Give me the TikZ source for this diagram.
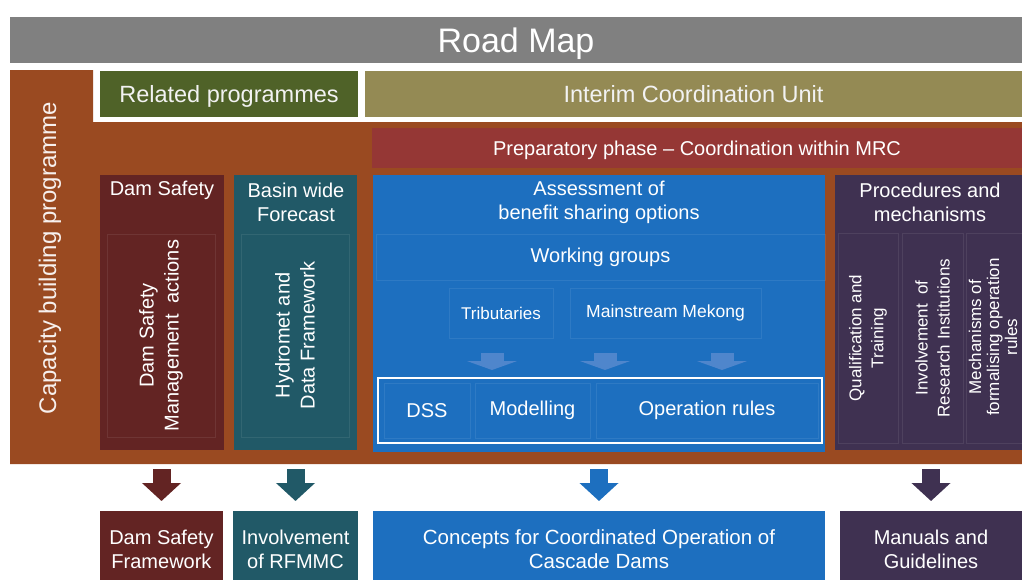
\documentclass[tikz,border=0pt]{standalone}
\usepackage{fontspec}
\setmainfont{Liberation Sans}
\usepackage{xcolor}
\usepackage{tikz}
\usetikzlibrary{arrows.meta,calc}

\definecolor{roadgrey}{HTML}{808080}
\definecolor{capbrown}{HTML}{9A4A21}
\definecolor{relgreen}{HTML}{4F6228}
\definecolor{icuolive}{HTML}{948A54}
\definecolor{prepred}{HTML}{953735}
\definecolor{damred}{HTML}{632423}
\definecolor{basinteal}{HTML}{215967}
\definecolor{assessblue}{HTML}{1D6FBF}
\definecolor{procpurple}{HTML}{3F3151}
\definecolor{wgarrow}{HTML}{4F86CC}

\tikzset{
  block/.style={anchor=north west, inner sep=0pt, outer sep=0pt, text=white, align=center},
  cell/.style={block, draw=white, draw opacity=0.08, line width=0.8pt},
  txt/.style={text=white, align=center, inner sep=0pt, font=\fontsize{20}{24}\selectfont},
  vtxt/.style={txt, rotate=90, font=\fontsize{20}{25}\selectfont},
  bartxt/.style={text=white!95!black, text depth=0pt, font=\fontsize{23.5}{28}\selectfont},
  bigarrow/.style={draw=#1, line width=18pt, -{Triangle[width=38pt,length=18pt]}},
  smallarrow/.style={draw=wgarrow, line width=23pt, -{Triangle[width=50pt,length=9pt]}},
}

\begin{document}
\begin{tikzpicture}[x=1pt,y=-1pt]
\useasboundingbox (0,0) rectangle (1022,579);

% background frame
\fill[capbrown] (10,70) -- (93,70) -- (93,122) -- (1022,122) -- (1022,464) -- (10,464) -- cycle;

% top bars
\node[block, fill=roadgrey, minimum width=1012pt, minimum height=46pt, text depth=0pt,
      font=\fontsize{34}{40}\selectfont] (road) at (10,17) {Road Map};
\node[block, bartxt, fill=relgreen, minimum width=258pt, minimum height=46pt] (related) at (100,71) {Related programmes};
\node[block, bartxt, fill=icuolive, minimum width=657pt, minimum height=46pt] (icu) at (365,71) {Interim Coordination Unit};
\node[block, fill=prepred, minimum width=650pt, minimum height=40pt, text depth=0pt,
      font=\fontsize{20}{24}\selectfont] (prep) at (372,128) {Preparatory phase -- Coordination within MRC};

\node[vtxt, text=white!92!capbrown, font=\fontsize{24}{28}\selectfont] (capacity) at (50,258) {Capacity building programme};

% dam safety
\node[block, fill=damred, minimum width=124pt, minimum height=275pt] (dam) at (100,175) {};
\node[txt] (damhead) at (162,190) {Dam Safety};
\node[cell, fill=damred, minimum width=108pt, minimum height=203pt] (damin) at (107,234) {};
\node[vtxt] (damtxt) at (damin.center) {Dam Safety\\Management\ \ actions};

% basin wide forecast
\node[block, fill=basinteal, minimum width=123pt, minimum height=275pt] (basin) at (234,175) {};
\node[txt] (basinhead) at (296,202) {Basin wide\\Forecast};
\node[cell, fill=basinteal, minimum width=108pt, minimum height=203pt] (basinin) at (241,234) {};
\node[vtxt] (basintxt) at (basinin.center) {Hydromet and\\Data Framework};

% assessment
\node[block, fill=assessblue, minimum width=452pt, minimum height=277pt] (assess) at (373,175) {};
\node[txt] (assesshead) at (599,202) {Assessment of\\benefit sharing options};
\node[cell, fill=assessblue, minimum width=449pt, minimum height=46pt,
      font=\fontsize{20}{24}\selectfont] (wg) at (376,234) {Working groups};
\node[cell, fill=assessblue, minimum width=104pt, minimum height=50pt,
      font=\fontsize{17}{20}\selectfont] (trib) at (449,288) {Tributaries};
\node[cell, fill=assessblue, minimum width=191pt, minimum height=50pt,
      font=\fontsize{17.5}{20}\selectfont] (main) at (570,288) {Mainstream Mekong};
\node[block, draw=white, line width=2.5pt, minimum width=444pt, minimum height=65pt] (rules) at (378,378) {};
\node[cell, fill=assessblue, minimum width=86pt, minimum height=55pt,
      font=\fontsize{20}{24}\selectfont] (dss) at (384,383) {DSS};
\node[cell, fill=assessblue, minimum width=115pt, minimum height=55pt,
      font=\fontsize{20}{24}\selectfont] (model) at (475,383) {Modelling};
\node[cell, fill=assessblue, minimum width=222pt, minimum height=55pt,
      font=\fontsize{20}{24}\selectfont] (oprules) at (596,383) {Operation rules};

\coordinate (w1) at (492,353); \coordinate (w1e) at (492,370);
\coordinate (w2) at (605,353); \coordinate (w2e) at (605,370);
\coordinate (w3) at (722,353); \coordinate (w3e) at (722,370);
\draw[smallarrow] (w1) -- (w1e);
\draw[smallarrow] (w2) -- (w2e);
\draw[smallarrow] (w3) -- (w3e);

% procedures
\node[block, fill=procpurple, minimum width=187pt, minimum height=275pt] (proc) at (835,175) {};
\node[txt] (prochead) at (930,202) {Procedures and\\mechanisms};
\node[cell, fill=procpurple, minimum width=60pt, minimum height=210pt] (qual) at (838,233) {};
\node[cell, fill=procpurple, minimum width=61pt, minimum height=210pt] (inv) at (902,233) {};
\node[cell, fill=procpurple, minimum width=60pt, minimum height=210pt] (mech) at (966,233) {};
\node[vtxt, font=\fontsize{17}{22}\selectfont] (qualtxt) at (qual.center) {Qualification and\\Training};
\node[vtxt, font=\fontsize{17}{22}\selectfont] (invtxt) at (inv.center) {Involvement\ \ of\\Research Institutions};
\node[vtxt, font=\fontsize{17}{18}\selectfont] (mechtxt) at (993,337) {Mechanisms of\\formalising operation\\rules};

% results
\node[block, fill=damred, minimum width=123pt, minimum height=76pt,
      font=\fontsize{20}{24}\selectfont] (dsfw) at (100,511) {Dam Safety\\Framework};
\node[block, fill=basinteal, minimum width=125pt, minimum height=76pt,
      font=\fontsize{20}{24}\selectfont] (rfmmc) at (233,511) {Involvement\\of RFMMC};
\node[block, fill=assessblue, minimum width=452pt, minimum height=76pt,
      font=\fontsize{20.5}{24}\selectfont] (concepts) at (373,511) {Concepts for Coordinated Operation of\\Cascade Dams};
\node[block, fill=procpurple, minimum width=182pt, minimum height=76pt,
      font=\fontsize{20}{24}\selectfont] (manuals) at (840,511) {Manuals and\\Guidelines};

\draw[bigarrow=damred] ($(dsfw.north |- dam.south)+(0,19)$) -- ($(dsfw.north)+(0,-10)$);
\draw[bigarrow=basinteal] ($(rfmmc.north |- basin.south)+(0,19)$) -- ($(rfmmc.north)+(0,-10)$);
\draw[bigarrow=assessblue] ($(concepts.north |- assess.south)+(0,17)$) -- ($(concepts.north)+(0,-10)$);
\draw[bigarrow=procpurple] ($(manuals.north |- proc.south)+(0,19)$) -- ($(manuals.north)+(0,-10)$);
\end{tikzpicture}
\end{document}
